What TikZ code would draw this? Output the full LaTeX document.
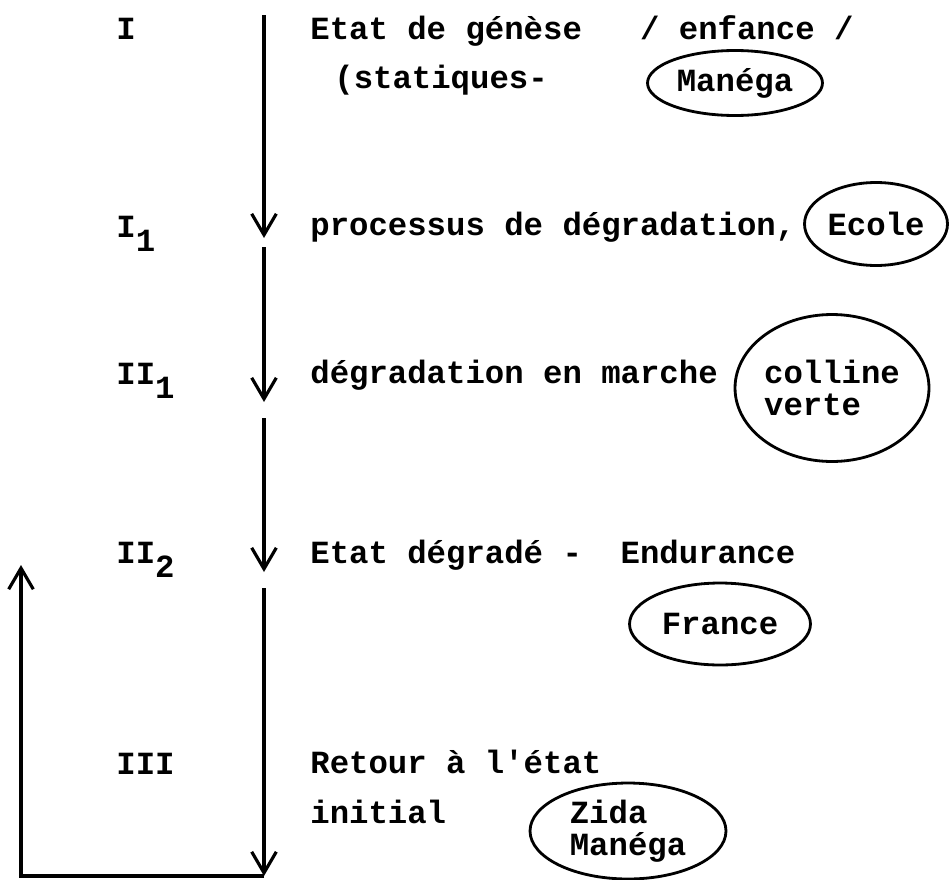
\documentclass[tikz,border=0pt]{standalone}
\usepackage{fontspec}
\setmonofont{Liberation Mono}
\usepackage{tikz}
\usetikzlibrary{arrows.meta, positioning, shapes.geometric}
\newcommand{\lowsub}[1]{\raisebox{-8.5pt}{#1}}

\begin{document}
\begin{tikzpicture}[x=0.02cm, y=-0.02cm,
    typed/.style={anchor=base west, inner sep=0pt, font=\ttfamily\bfseries\fontsize{18.4}{18.4}\selectfont},
    bubble/.style={draw, ellipse, line width=1.6pt, inner sep=0pt, align=left, font=\ttfamily\bfseries\fontsize{18.4}{18.4}\selectfont},
    stagearrow/.style={line width=1.8pt, -{Straight Barb[length=12pt, width=14pt]}}]
    \useasboundingbox (0,0) rectangle (949,879);

    % Stage labels
    \node[typed] (lI) at (116,39) {I};
    \node[typed] (lIone) at (116,237) {I\lowsub{1}};
    \node[typed] (lIIone) at (116,384) {II\lowsub{1}};
    \node[typed] (lIItwo) at (116,563) {II\lowsub{2}};
    \node[typed] (lIII) at (116,774) {III};

    % Main line, split at each stage
    \coordinate (top) at (264,15);
    \coordinate (t1) at (264,238);
    \coordinate (s1) at (264,247);
    \coordinate (t2) at (264,402);
    \coordinate (s2) at (264,418);
    \coordinate (t3) at (264,572);
    \coordinate (s3) at (264,588);
    \coordinate (t4) at (264,876);
    \coordinate (back) at (21,565);
    \draw[stagearrow] (top) -- (t1);
    \draw[stagearrow] (s1) -- (t2);
    \draw[stagearrow] (s2) -- (t3);
    \draw[stagearrow] (s3) -- (t4);

    % Return to the start
    \draw[stagearrow] (t4) -| (back);

    % Stage texts
    \node[typed] (genese) at (310,39) {Etat de génèse\ \ \ / enfance /};
    \node[typed] (statiques) at (334,88) {(statiques-};
    \node[typed] (processus) at (310,235) {processus de dégradation,};
    \node[typed] (marche) at (310,383) {dégradation en marche};
    \node[typed] (degrade) at (310,563) {Etat dégradé -\ \ Endurance};
    \node[typed] (retour) at (310,773) {Retour à l'état};
    \node[typed] (initial) at (310,823) {initial};

    % Circled places
    \node[bubble, minimum width=3.5cm, minimum height=1.3cm] (manega) at (735,83) {Manéga};
    \node[bubble, minimum width=2.86cm, minimum height=1.66cm] (ecole) at (876,224) {Ecole};
    \node[bubble, minimum width=3.88cm, minimum height=2.94cm] (colline) at (832,388) {colline\\verte};
    \node[bubble, minimum width=3.62cm, minimum height=1.64cm] (france) at (720,624) {France};
    \node[bubble, minimum width=3.92cm, minimum height=1.92cm] (zida) at (628,831) {Zida\\Manéga};
\end{tikzpicture}
\end{document}
